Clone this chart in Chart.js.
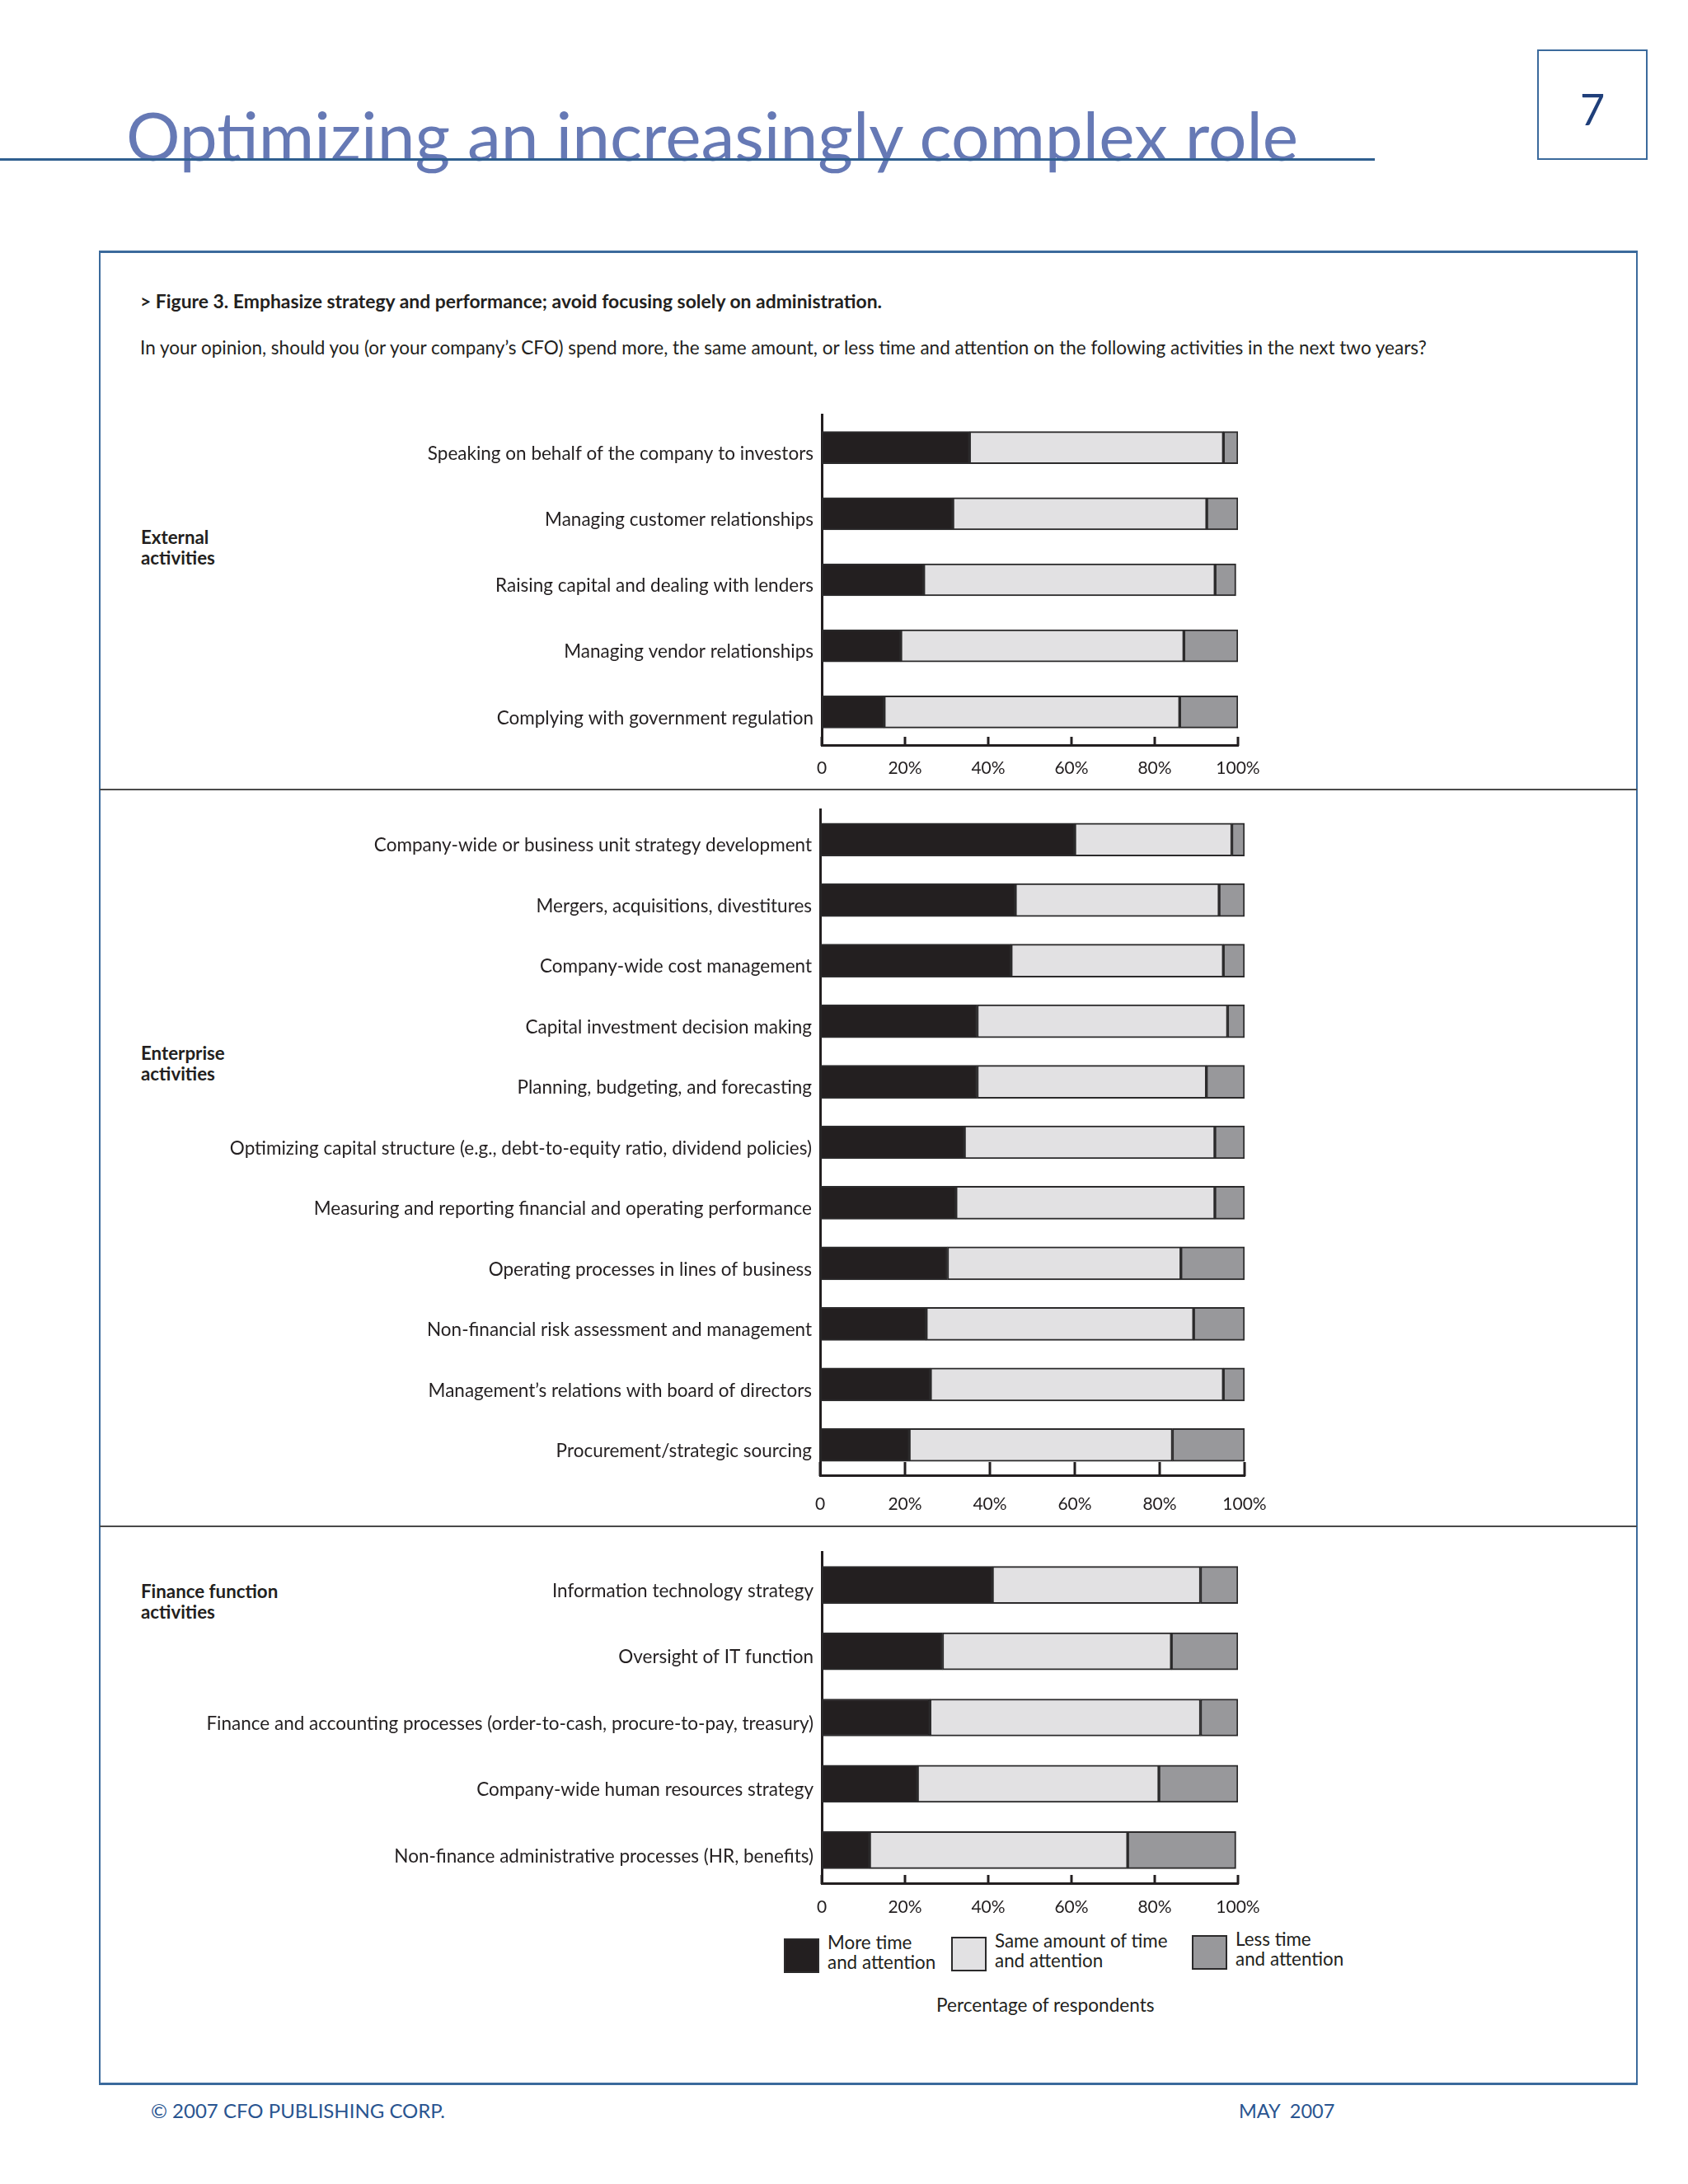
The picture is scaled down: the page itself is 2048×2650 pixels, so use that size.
<!DOCTYPE html>
<html><head><meta charset="utf-8">
<script src="https://cdn.jsdelivr.net/npm/chart.js@4.4.1/dist/chart.umd.min.js"></script>
<style>
html,body{margin:0;padding:0;background:#fff;}
#page{position:relative;width:2048px;height:2650px;background:#fff;font-family:Lato,"Noto Sans",sans-serif;color:#231f20;overflow:hidden;}
.t{position:absolute;white-space:nowrap;}
canvas{position:absolute;}
</style></head><body><div id="page"></div>
<script>
// ---------- DATA ----------
const seriesNames = [["More time","and attention"],["Same amount of time","and attention"],["Less time","and attention"]];
const tickLabels = ["0","20%","40%","60%","80%","100%"];
const tickValues = [0,20,40,60,80,100];

const extCategories = ["Speaking on behalf of the company to investors","Managing customer relationships","Raising capital and dealing with lenders","Managing vendor relationships","Complying with government regulation"];
const extMore = [35.5, 31.5, 24.5, 19, 15];
const extSame = [61, 61, 70, 68, 71];
const extLess = [3.5, 7.5, 5, 13, 14];

const entCategories = ["Company-wide or business unit strategy development","Mergers, acquisitions, divestitures","Company-wide cost management","Capital investment decision making","Planning, budgeting, and forecasting","Optimizing capital structure (e.g., debt-to-equity ratio, dividend policies)","Measuring and reporting financial and operating performance","Operating processes in lines of business","Non-financial risk assessment and management","Management\u2019s relations with board of directors","Procurement/strategic sourcing"];
const entMore = [60, 46, 45, 37, 37, 34, 32, 30, 25, 26, 21];
const entSame = [37, 48, 50, 59, 54, 59, 61, 55, 63, 69, 62];
const entLess = [3, 6, 5, 4, 9, 7, 7, 15, 12, 5, 17];

const finCategories = ["Information technology strategy","Oversight of IT function","Finance and accounting processes (order-to-cash, procure-to-pay, treasury)","Company-wide human resources strategy","Non-finance administrative processes (HR, benefits)"];
const finMore = [41, 29, 26, 23, 11.5];
const finSame = [50, 55, 65, 58, 62];
const finLess = [9, 16, 9, 19, 26];

const groupLabels = [["External","activities"],["Enterprise","activities"],["Finance function","activities"]];

// ---------- STYLE ----------
const COLORS = ["#231f20","#e2e1e3","#98989b"];
const EDGE = "#2b2a2b";
const page = document.getElementById('page');

function addText(txt, x, y, css){
  const d = document.createElement('div');
  d.className = 't';
  d.textContent = txt;
  d.style.left = x + 'px'; d.style.top = y + 'px';
  Object.assign(d.style, css || {});
  page.appendChild(d);
  return d;
}
function addBox(x, y, w, h, css){
  const d = document.createElement('div');
  d.style.position = 'absolute';
  d.style.left = x + 'px'; d.style.top = y + 'px';
  d.style.width = w + 'px'; d.style.height = h + 'px';
  d.style.boxSizing = 'border-box';
  Object.assign(d.style, css || {});
  page.appendChild(d);
  return d;
}

// header
addText("Optimizing an increasingly complex role", 153, 115, {fontSize:'82px', lineHeight:'96px', color:'#6679b5'});
addBox(0, 192, 1668, 3, {background:'#2f5f8f'});
const pbox = addBox(1865, 60, 134, 134, {border:'2px solid #3b6a9c', display:'flex', alignItems:'center', justifyContent:'center'});
pbox.innerHTML = '<span style="font-size:52px;color:#1f3f7a;line-height:52px;margin-top:10px">7</span>';

// frame
addBox(120, 304, 1867, 2226, {border:'2px solid #3b6a9c', borderTopWidth:'3px', borderBottomWidth:'3px'});
addBox(121, 957, 1865, 2, {background:'#4a4a4a'});
addBox(121, 1851, 1865, 2, {background:'#4a4a4a'});

addText("> Figure 3. Emphasize strategy and performance; avoid focusing solely on administration.", 170, 351, {fontSize:'22.9px', lineHeight:'28px', fontWeight:'bold'});
addText("In your opinion, should you (or your company\u2019s CFO) spend more, the same amount, or less time and attention on the following activities in the next two years?", 170, 408, {fontSize:'22.5px', lineHeight:'28px'});

// group labels
const groupY = [639, 1265, 1918];
groupLabels.forEach((g, i) => {
  const d = addText('', 171, groupY[i], {fontSize:'22.3px', lineHeight:'25px', fontWeight:'bold'});
  d.innerHTML = g.join('<br>');
});

// tick plugin (upward tick marks)
const upTicks = {
  id: 'upTicks',
  afterDraw(chart, args, opts){
    const xs = chart.scales.x, ctx = chart.ctx, b = chart.chartArea.bottom;
    ctx.save();
    ctx.strokeStyle = '#231f20'; ctx.lineWidth = 3;
    tickValues.forEach(v => {
      const px = Math.round(xs.getPixelForValue(v));
      ctx.beginPath(); ctx.moveTo(px, b + 1); ctx.lineTo(px, b - opts.len); ctx.stroke();
    });
    ctx.restore();
  }
};

function makePanel(cats, more, same, less, geo){
  const CL = 125, PADT = 40, PADR = 70, XH = 50;
  const CT = geo.top - PADT;
  const W = geo.x100 + PADR - CL;
  const H = geo.bottom - CT + XH;
  const cv = document.createElement('canvas');
  cv.width = W; cv.height = H;
  cv.style.left = CL + 'px'; cv.style.top = CT + 'px';
  cv.style.width = W + 'px'; cv.style.height = H + 'px';
  page.appendChild(cv);
  const mk = (label, data, i) => ({
    label: label.join(' '), data, backgroundColor: COLORS[i], borderColor: EDGE,
    borderWidth: 2, borderSkipped: false, barThickness: geo.bar
  });
  new Chart(cv.getContext('2d'), {
    type: 'bar',
    data: { labels: cats, datasets: [mk(seriesNames[0], more, 0), mk(seriesNames[1], same, 1), mk(seriesNames[2], less, 2)] },
    options: {
      indexAxis: 'y', responsive: false, animation: false, devicePixelRatio: 1,
      layout: { padding: { top: PADT, right: PADR, left: 0, bottom: 0 } },
      plugins: { legend: { display: false }, tooltip: { enabled: false }, upTicks: { len: geo.tick } },
      scales: {
        x: {
          stacked: true, min: 0, max: 100,
          grid: { display: false, drawTicks: false },
          border: { display: true, color: '#231f20', width: 3 },
          afterFit(s){ s.height = XH; },
          afterBuildTicks(s){ s.ticks = tickValues.map(v => ({ value: v })); },
          ticks: {
            autoSkip: false, maxRotation: 0, padding: geo.lpad, color: '#231f20',
            font: { family: 'Lato', size: 21 },
            callback: (v) => tickLabels[tickValues.indexOf(v)]
          }
        },
        y: {
          stacked: true,
          grid: { display: false, drawTicks: false },
          border: { display: true, color: '#231f20', width: 3 },
          afterFit(s){ s.width = geo.x0 - CL; },
          ticks: {
            autoSkip: false, padding: 10, color: '#231f20',
            font: { family: 'Lato', size: 22.5, lineHeight: '15px' },
            // empty first line nudges the label slightly below the bar centre, as in the original
            callback: function(v){ return ['', this.getLabelForValue(v)]; }
          }
        }
      }
    },
    plugins: [upTicks]
  });
}

makePanel(extCategories, extMore, extSame, extLess, {x0: 997, x100: 1502, top: 503, bottom: 904, bar: 39, tick: 10, lpad: 16});
makePanel(entCategories, entMore, entSame, entLess, {x0: 995, x100: 1510, top: 982, bottom: 1790, bar: 40, tick: 16, lpad: 23});
makePanel(finCategories, finMore, finSame, finLess, {x0: 997, x100: 1502, top: 1883, bottom: 2285, bar: 45, tick: 10, lpad: 17});

// legend
const legBoxes = [[951, 2352], [1154, 2350], [1446, 2348]];
seriesNames.forEach((nm, i) => {
  const [bx, by] = legBoxes[i];
  addBox(bx, by, 43, 42, {background: COLORS[i], border: '2px solid ' + EDGE});
  const d = addText('', bx + 53, by - 7, {fontSize:'22.4px', lineHeight:'24px'});
  d.innerHTML = nm.join('<br>');
});
addText("Percentage of respondents", 1136, 2419, {fontSize:'22.6px', lineHeight:'28px'});

// footer
addText("\u00a9 2007 CFO PUBLISHING CORP.", 183, 2547, {fontSize:'24px', lineHeight:'28px', color:'#2a5590'});
addText("MAY\u00a0 2007", 1503, 2547, {fontSize:'23.5px', lineHeight:'28px', color:'#2a5590'});
</script>
</body></html>
